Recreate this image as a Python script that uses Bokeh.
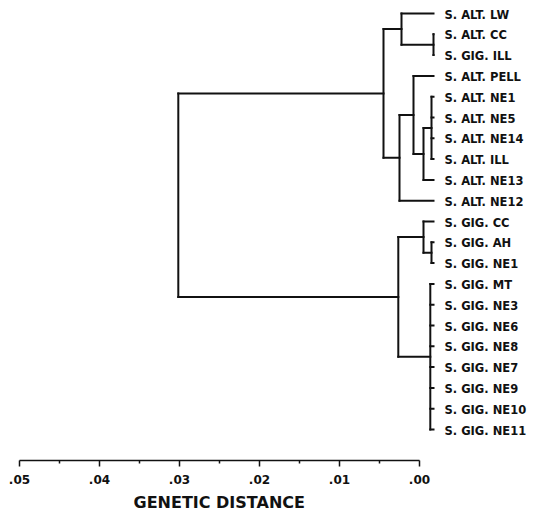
from bokeh.plotting import figure
from bokeh.models import Range1d, LinearAxis, FixedTicker, CustomJSTickFormatter, ColumnDataSource, Title
from bokeh.core.properties import value
from bokeh.embed import file_html
from bokeh.resources import INLINE

# ---------------- data ----------------
leaf_labels = [
    "S. ALT. LW", "S. ALT. CC", "S. GIG. ILL", "S. ALT. PELL", "S. ALT. NE1",
    "S. ALT. NE5", "S. ALT. NE14", "S. ALT. ILL", "S. ALT. NE13", "S. ALT. NE12",
    "S. GIG. CC", "S. GIG. AH", "S. GIG. NE1", "S. GIG. MT", "S. GIG. NE3",
    "S. GIG. NE6", "S. GIG. NE8", "S. GIG. NE7", "S. GIG. NE9", "S. GIG. NE10",
    "S. GIG. NE11",
]
# internal nodes (ids 21, 22, ... in this order); children refer to leaf / node ids
node_children = [
    [1, 2],                              # 21
    [0, 21],                             # 22
    [4, 5, 6, 7],                        # 23
    [23, 8],                             # 24
    [3, 24],                             # 25
    [25, 9],                             # 26
    [22, 26],                            # 27
    [11, 12],                            # 28
    [10, 28],                            # 29
    [13, 14, 15, 16, 17, 18, 19, 20],    # 30
    [29, 30],                            # 31
    [27, 31],                            # 32 root
]
node_heights = [0.0, 0.0040, 0.00025, 0.00125, 0.0025, 0.00425, 0.00625,
                0.00025, 0.00125, 0.0004, 0.0044, 0.0319]
tick_values = [0.05, 0.04, 0.03, 0.02, 0.01, 0.00]
minor_tick_values = [0.045, 0.035, 0.025, 0.015, 0.005]
axis_title = "GENETIC DISTANCE"

# ---------------- layout constants ----------------
W, H = 536, 518
PX_PER_UNIT = 8000.0
TIP_PX = 433          # canvas px of tree tips
AXIS_ZERO_PX = 419    # canvas px of axis 0
Y0, STEP = 13, 20.8
FRAME_BOTTOM = 460
INK = "#111111"
FONT = "DejaVu Sans"

# ---------------- tree geometry ----------------
n = len(leaf_labels)
ys = [float(i) for i in range(n)]
hs = [0.0] * n
x0, y0, x1, y1 = [], [], [], []
for ch, h in zip(node_children, node_heights):
    lo = min(ys[c] for c in ch)
    hi = max(ys[c] for c in ch)
    x0.append(h); y0.append(lo); x1.append(h); y1.append(hi)
    for c in ch:
        x0.append(h); y0.append(ys[c]); x1.append(hs[c]); y1.append(ys[c])
    ys.append((lo + hi) / 2.0)
    hs.append(h)

seg = ColumnDataSource(dict(x0=x0, y0=y0, x1=x1, y1=y1))

x_range = Range1d(start=TIP_PX / PX_PER_UNIT, end=(TIP_PX - W) / PX_PER_UNIT)
y_range = Range1d(start=(FRAME_BOTTOM - Y0) / STEP, end=(0 - Y0) / STEP)

p = figure(width=W, height=H, x_range=x_range, y_range=y_range,
           x_axis_type=None, y_axis_type=None, toolbar_location=None,
           output_backend="svg", min_border_left=0, min_border_right=0,
           min_border_top=0, min_border_bottom=H - FRAME_BOTTOM)
p.outline_line_color = None
p.background_fill_color = "white"
p.border_fill_color = "white"

p.segment(x0="x0", y0="y0", x1="x1", y1="y1", source=seg,
          line_color=INK, line_width=2, line_cap="square")

p.text(x=[0.0] * n, y=list(range(n)), text=leaf_labels,
       text_font=value(FONT), text_font_style="bold", text_font_size="11.5px",
       text_baseline="middle", text_align="left", x_offset=11, y_offset=1,
       text_color=INK)

p.extra_x_ranges = {"dist": Range1d(start=AXIS_ZERO_PX / PX_PER_UNIT,
                                    end=(AXIS_ZERO_PX - W) / PX_PER_UNIT)}
ax = LinearAxis(x_range_name="dist",
                ticker=FixedTicker(ticks=tick_values, minor_ticks=minor_tick_values),
                formatter=CustomJSTickFormatter(code="return tick.toFixed(2).replace(/^0/, '')"),
                bounds=(0.0, 0.05))
ax.axis_line_color = INK
ax.axis_line_width = 1.5
ax.major_tick_line_color = INK
ax.major_tick_line_width = 1.5
ax.minor_tick_line_color = INK
ax.minor_tick_line_width = 1.5
ax.major_tick_out = 6
ax.major_tick_in = 0
ax.minor_tick_out = 3
ax.minor_tick_in = 0
ax.major_label_standoff = 8
ax.major_label_text_font = FONT
ax.major_label_text_font_style = "bold"
ax.major_label_text_font_size = "12px"
ax.major_label_text_color = INK
p.add_layout(ax, "below")

title = Title(text=axis_title, align="left", offset=133, standoff=9,
              text_font=FONT, text_font_style="bold", text_font_size="16px",
              text_color=INK)
p.add_layout(title, "below")

open("out.html", "w").write(file_html(p, INLINE))
